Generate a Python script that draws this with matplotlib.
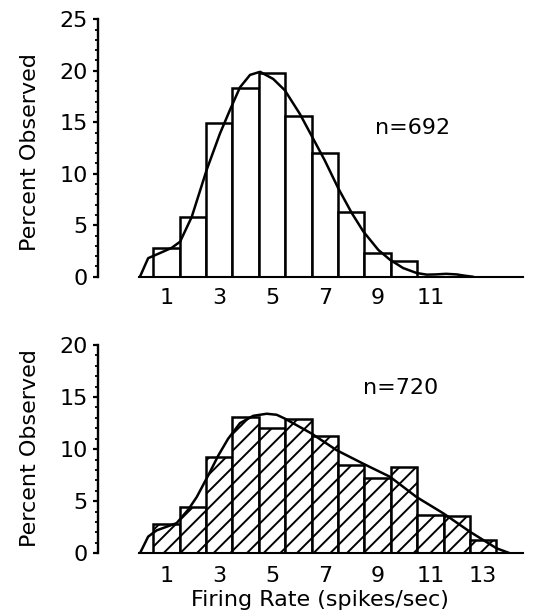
import matplotlib
matplotlib.use("Agg")
import matplotlib.pyplot as plt
from matplotlib.ticker import MultipleLocator

# ---- data ----
rates_top = [1, 2, 3, 4, 5, 6, 7, 8, 9, 10]
pct_top = [2.75, 5.8, 14.9, 18.3, 19.8, 15.6, 12.0, 6.3, 2.26, 1.5]
n_top = "n=692"

fit_top_x = [0.0, 0.31, 0.76, 1.2, 1.52, 1.96, 2.53, 3.03, 3.41, 3.79, 4.17, 4.55,
             5.05, 5.49, 6.06, 6.5, 7.0, 7.51, 8.02, 8.46, 9.03, 9.47, 9.97, 10.48,
             10.86, 11.2, 11.6, 12.0, 12.3, 12.6]
fit_top_y = [0.0, 1.8, 2.3, 2.8, 3.4, 5.8, 10.4, 13.9, 16.2, 18.4, 19.6, 19.9,
             19.2, 18.1, 15.8, 13.7, 11.3, 8.6, 6.2, 4.4, 2.6, 1.65, 0.84, 0.36,
             0.2, 0.22, 0.28, 0.22, 0.1, 0.0]

rates_bot = [1, 2, 3, 4, 5, 6, 7, 8, 9, 10, 11, 12, 13]
pct_bot = [2.8, 4.4, 9.2, 13.1, 12.0, 12.9, 11.25, 8.5, 7.2, 8.3, 3.7, 3.6, 1.3]
n_bot = "n=720"

fit_bot_x = [0.0, 0.31, 0.63, 1.39, 1.83, 2.15, 2.59, 2.97, 3.34, 3.79, 4.29, 4.8,
             5.18, 5.49, 6.5, 7.45, 8.46, 9.47, 10.48, 11.49, 12.5, 13.51, 14.02]
fit_bot_y = [0.0, 1.6, 2.2, 2.9, 4.2, 5.4, 7.5, 9.4, 11.0, 12.5, 13.2, 13.4,
             13.3, 12.93, 11.5, 9.9, 8.6, 7.35, 5.4, 3.84, 2.07, 0.48, 0.0]

top_ticks = [1, 3, 5, 7, 9, 11]
bot_ticks = [1, 3, 5, 7, 9, 11, 13]
ylabel = "Percent Observed"
xlabel = "Firing Rate (spikes/sec)"

# ---- figure ----
plt.rcParams['font.family'] = ['DejaVu Sans']
plt.rcParams['hatch.linewidth'] = 1.4
FS = 16

fig = plt.figure(figsize=(5.33, 6.14), dpi=100)
ax1 = fig.add_axes([98/533, 1-276.7/614, 435/533, (276.7-19.3)/614])
ax2 = fig.add_axes([98/533, 1-553.3/614, 435/533, (553.3-345)/614])

def style(ax, ymax, xticks, xpad):
    ax.set_xlim(-1.59, 14.89)
    ax.set_ylim(0, ymax)
    for s in ['top', 'right']:
        ax.spines[s].set_visible(False)
    ax.spines['left'].set_linewidth(1.7)
    ax.spines['bottom'].set_linewidth(1.5)
    ax.spines['bottom'].set_bounds(-0.05, 14.5)
    ax.yaxis.set_major_locator(MultipleLocator(5))
    ax.yaxis.set_minor_locator(MultipleLocator(1))
    ax.tick_params(axis='y', which='major', direction='out', length=3.5, width=1.6,
                   labelsize=FS, pad=4)
    ax.tick_params(axis='y', which='minor', direction='out', length=2.4, width=1.3)
    ax.set_xticks(xticks)
    ax.set_xticklabels([str(t) for t in xticks])
    ax.tick_params(axis='x', length=0, labelsize=FS, pad=xpad)
    ax.patch.set_visible(False)

ax1.bar(rates_top, pct_top, width=1.0, facecolor='white', edgecolor='black',
        linewidth=1.8, zorder=2)
ax1.plot(fit_top_x, fit_top_y, color='black', linewidth=1.8, zorder=3,
         solid_joinstyle='round')
style(ax1, 25, top_ticks, 8.3)
ax1.text(8.9, 14.4, n_top, fontsize=FS, va='center', ha='left')

ax2.bar(rates_bot, pct_bot, width=1.0, facecolor='white', edgecolor='black',
        linewidth=1.8, hatch='//', zorder=2)
ax2.plot(fit_bot_x, fit_bot_y, color='black', linewidth=1.8, zorder=3,
         solid_joinstyle='round')
style(ax2, 20, bot_ticks, 9.5)
ax2.text(8.46, 15.9, n_bot, fontsize=FS, va='center', ha='left')

fig.text(30/533, 1-152/614, ylabel, rotation=90, fontsize=FS, ha='center', va='center')
fig.text(30/533, 1-448.5/614, ylabel, rotation=90, fontsize=FS, ha='center', va='center')
fig.text(320/533, 1-606/614, xlabel, fontsize=FS, ha='center', va='baseline')

fig.savefig("out.png", dpi=100)
